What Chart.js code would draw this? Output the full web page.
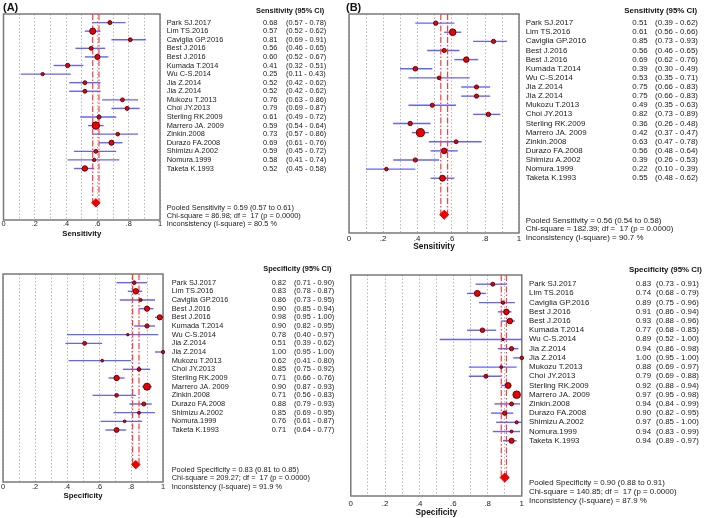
<!DOCTYPE html>
<html>
<head>
<meta charset="utf-8">
<script src="https://cdn.jsdelivr.net/npm/chart.js@4.4.0/dist/chart.umd.min.js"></script>
<style>
  body { margin: 0; background: #fff; }
  #page { position: relative; width: 709px; height: 518px; overflow: hidden;
          font-family: "Liberation Sans", Arial, sans-serif; color: #1a1a1a; }
  canvas { position: absolute; }
  .t { position: absolute; white-space: pre; line-height: 1; transform: translateY(-50%); }
  .b { font-weight: bold; color: #111; }
</style>
</head>
<body>
<div id="page"></div>
<script>
const studies = ["Park SJ.2017", "Lim TS.2016", "Caviglia GP.2016", "Best J.2016", "Best J.2016",
  "Kumada T.2014", "Wu C-S.2014", "Jia Z.2014", "Jia Z.2014", "Mukozu T.2013", "Choi JY.2013",
  "Sterling RK.2009", "Marrero JA. 2009", "Zinkin.2008", "Durazo FA.2008", "Shimizu A.2002",
  "Nomura.1999", "Taketa K.1993"];

// (A) sensitivity
const sensA   = [0.68, 0.57, 0.81, 0.56, 0.60, 0.41, 0.25, 0.52, 0.52, 0.76, 0.79, 0.61, 0.59, 0.73, 0.69, 0.59, 0.58, 0.52];
const sensALo = [0.57, 0.52, 0.69, 0.46, 0.52, 0.32, 0.11, 0.42, 0.42, 0.63, 0.69, 0.49, 0.54, 0.57, 0.61, 0.45, 0.41, 0.45];
const sensAHi = [0.78, 0.62, 0.91, 0.65, 0.67, 0.51, 0.43, 0.62, 0.62, 0.86, 0.87, 0.72, 0.64, 0.86, 0.76, 0.72, 0.74, 0.58];
const pooledSensA = [0.59, 0.57, 0.61];
const chiSensA = 86.98, i2SensA = 80.5;

// (B) sensitivity
const sensB   = [0.51, 0.61, 0.85, 0.56, 0.69, 0.39, 0.53, 0.75, 0.75, 0.49, 0.82, 0.36, 0.42, 0.63, 0.56, 0.39, 0.22, 0.55];
const sensBLo = [0.39, 0.56, 0.73, 0.46, 0.62, 0.30, 0.35, 0.66, 0.66, 0.35, 0.73, 0.26, 0.37, 0.47, 0.48, 0.26, 0.10, 0.48];
const sensBHi = [0.62, 0.66, 0.93, 0.65, 0.76, 0.49, 0.71, 0.83, 0.83, 0.63, 0.89, 0.48, 0.47, 0.78, 0.64, 0.53, 0.39, 0.62];
const pooledSensB = [0.56, 0.54, 0.58];
const chiSensB = 182.39, i2SensB = 90.7;

// (A) specificity
const specA   = [0.82, 0.83, 0.86, 0.90, 0.98, 0.90, 0.78, 0.51, 1.00, 0.62, 0.85, 0.71, 0.90, 0.71, 0.88, 0.85, 0.76, 0.71];
const specALo = [0.71, 0.78, 0.73, 0.85, 0.95, 0.82, 0.40, 0.39, 0.95, 0.41, 0.75, 0.66, 0.87, 0.56, 0.79, 0.69, 0.61, 0.64];
const specAHi = [0.90, 0.87, 0.95, 0.94, 1.00, 0.95, 0.97, 0.62, 1.00, 0.80, 0.92, 0.76, 0.93, 0.83, 0.93, 0.95, 0.87, 0.77];
const pooledSpecA = [0.83, 0.81, 0.85];
const chiSpecA = 209.27, i2SpecA = 91.9;

// (B) specificity
const specB   = [0.83, 0.74, 0.89, 0.91, 0.93, 0.77, 0.89, 0.94, 1.00, 0.88, 0.79, 0.92, 0.97, 0.94, 0.90, 0.97, 0.94, 0.94];
const specBLo = [0.73, 0.68, 0.75, 0.86, 0.88, 0.68, 0.52, 0.86, 0.95, 0.69, 0.69, 0.88, 0.95, 0.84, 0.82, 0.85, 0.83, 0.89];
const specBHi = [0.91, 0.79, 0.96, 0.94, 0.96, 0.85, 1.00, 0.98, 1.00, 0.97, 0.88, 0.94, 0.98, 0.99, 0.95, 1.00, 0.99, 0.97];
const pooledSpecB = [0.90, 0.88, 0.91];
const chiSpecB = 140.85, i2SpecB = 87.9;

// relative study weights (marker size), cases for sensitivity, controls for specificity
const casesN    = [45, 150, 40, 40, 90, 55, 25, 40, 40, 40, 45, 45, 250, 32, 90, 40, 22, 110];
const controlsN = [33, 114, 18, 94, 94, 52, 6, 40, 23, 11, 33, 104, 213, 33, 46, 15, 11, 76];

const tickLabels = ["0", ".2", ".4", ".6", ".8", "1"];

const FONT = '"Liberation Sans", Arial, sans-serif';
const page = document.getElementById('page');

const panels = [
  { tag: '(A)', tagX: 3, kind: 'Sensitivity', est: sensA, lo: sensALo, hi: sensAHi, n: casesN,
    pooled: pooledSensA, chi: chiSensA, i2: i2SensA, k: 1,
    area: { l: 3.5, t: 14, r: 160, b: 220 }, tickPad: 0, titlePad: 3.9, font: 7.4,
    nameX: 166.7, valX: 263, ciX: 286, headX: 256, headY: 10.7, foot: [207.7, 216, 224.3] },
  { tag: '(B)', tagX: 346, kind: 'Sensitivity', est: sensB, lo: sensBLo, hi: sensBHi, n: casesN,
    pooled: pooledSensB, chi: chiSensB, i2: i2SensB, k: 1.08,
    area: { l: 349, t: 14, r: 519, b: 233 }, tickPad: 1, titlePad: 2.9, font: 7.9,
    nameX: 525.7, valX: 632.3, ciX: 655, headX: 624.3, headY: 10.7, foot: [220.7, 229.3, 238.3] },
  { kind: 'Specificity', est: specA, lo: specALo, hi: specAHi, n: controlsN,
    pooled: pooledSpecA, chi: chiSpecA, i2: i2SpecA, k: 1,
    area: { l: 3, t: 274, r: 163, b: 482 }, tickPad: 1, titlePad: 3.6, font: 7.4,
    nameX: 171.7, valX: 271.7, ciX: 294, headX: 263.3, headY: 269.3, foot: [470, 478.3, 487.3] },
  { kind: 'Specificity', est: specB, lo: specBLo, hi: specBHi, n: controlsN,
    pooled: pooledSpecB, chi: chiSpecB, i2: i2SpecB, k: 1.08,
    area: { l: 350.8, t: 275, r: 521.8, b: 496 }, tickPad: 3, titlePad: 0, font: 7.9,
    nameX: 529, valX: 635.7, ciX: 656, headX: 629, headY: 270, foot: [482.7, 491.7, 500.7] }
];

function radius(n) {
  return 0.75 + 0.19 * Math.sqrt(n);
}

function addText(x, y, str, size, bold) {
  const d = document.createElement('div');
  d.className = 't' + (bold ? ' b' : '');
  d.style.left = x + 'px';
  d.style.top = y + 'px';
  d.style.fontSize = size + 'px';
  d.textContent = str;
  page.appendChild(d);
}

const boxPlugin = {
  id: 'box',
  beforeDatasetsDraw(chart) {
    const a = chart.chartArea, ctx = chart.ctx;
    ctx.save();
    ctx.strokeStyle = '#7a7a7a';
    ctx.lineWidth = 1.5;
    ctx.strokeRect(a.left, a.top, a.right - a.left, a.bottom - a.top);
    ctx.restore();
  }
};

panels.forEach(p => {
  const a = p.area;
  const cx = Math.floor(a.l - 6), cy = Math.max(0, Math.floor(a.t - 14));
  const cw = Math.ceil(a.r - cx + 8), ch = Math.ceil(a.b - cy + 30);
  const axisH = 22;
  const cv = document.createElement('canvas');
  cv.width = cw;
  cv.height = ch;
  cv.style.left = cx + 'px';
  cv.style.top = cy + 'px';
  page.appendChild(cv);

  const pooledRow = p.est.length + 4;
  const refLine = v => ({
    data: [{ x: v, y: 0 }, { x: v, y: pooledRow }],
    showLine: true, pointRadius: 0, borderColor: '#ff3c3c', borderWidth: 1.2,
    borderDash: [6, 2, 1.5, 2]
  });

  const datasets = [
    { data: p.est.map((v, i) => ({ x: v, y: i + 1 })),
      pointRadius: c => radius(p.n[c.dataIndex]) * p.k,
      backgroundColor: '#ee0000', borderColor: '#4a0000', borderWidth: 0.9, clip: false },
    { data: [{ x: p.pooled[0], y: pooledRow }], pointStyle: 'rectRot', pointRadius: 4.2 * p.k,
      backgroundColor: '#f00000', borderColor: '#e00000', borderWidth: 1, clip: false },
    refLine(p.pooled[1]),
    refLine(p.pooled[2]),
    ...p.lo.map((lo, i) => ({
      data: [{ x: lo, y: i + 1 }, { x: p.hi[i], y: i + 1 }],
      showLine: true, pointRadius: 0, borderColor: 'rgba(60,60,255,0.8)', borderWidth: 1.4, clip: false
    }))
  ];

  const chart = new Chart(cv, {
    type: 'scatter',
    data: { datasets },
    plugins: [boxPlugin],
    options: {
      responsive: false,
      animation: false,
      events: [],
      layout: { padding: { left: a.l - cx, top: a.t - cy, right: cx + cw - a.r, bottom: ch - (a.b - cy) - axisH } },
      plugins: { legend: { display: false }, tooltip: { enabled: false } },
      scales: {
        x: {
          type: 'linear', min: 0, max: 1,
          afterFit: s => { s.height = axisH; },
          ticks: {
            stepSize: 0.1, autoSkip: false, maxRotation: 0, padding: p.tickPad,
            color: '#222', font: { family: FONT, size: p.font },
            callback: (v, i) => (i % 2 === 0 ? tickLabels[i / 2] : '')
          },
          grid: { color: '#b8b8b8', lineWidth: 1, drawTicks: false },
          border: { display: false, dash: [1.5, 2] },
          title: {
            display: true, text: p.kind, color: '#111',
            font: { family: FONT, size: p.font + 0.4, weight: 'bold' },
            padding: { top: 0, bottom: p.titlePad }
          }
        },
        y: { type: 'linear', display: false, min: 0, max: pooledRow + 2, reverse: true }
      }
    }
  });

  const ys = chart.scales.y;
  p.est.forEach((v, i) => {
    const y = cy + ys.getPixelForValue(i + 1);
    addText(p.nameX, y, studies[i], p.font);
    addText(p.valX, y, v.toFixed(2), p.font);
    addText(p.ciX, y, '(' + p.lo[i].toFixed(2) + ' - ' + p.hi[i].toFixed(2) + ')', p.font);
  });
  addText(p.headX, p.headY, p.kind + ' (95% CI)', p.font, true);
  const df = p.est.length - 1;
  addText(p.nameX, p.foot[0], 'Pooled ' + p.kind + ' = ' + p.pooled[0].toFixed(2) +
    ' (' + p.pooled[1].toFixed(2) + ' to ' + p.pooled[2].toFixed(2) + ')', p.font);
  addText(p.nameX, p.foot[1], 'Chi-square = ' + p.chi.toFixed(2) + '; df =  ' + df + ' (p = 0.0000)', p.font);
  addText(p.nameX, p.foot[2], 'Inconsistency (I-square) = ' + p.i2.toFixed(1) + ' %', p.font);
  if (p.tag) addText(p.tagX, 7, p.tag, 11, true);
});
</script>
</body>
</html>
